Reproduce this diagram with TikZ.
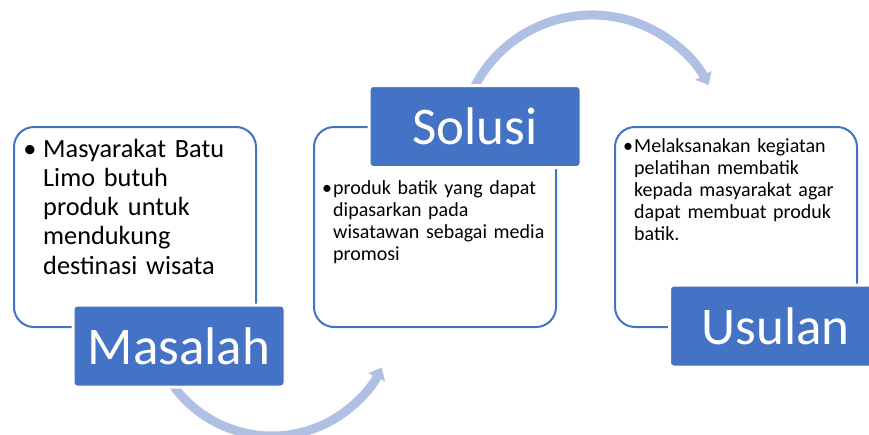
\documentclass[tikz,border=0pt]{standalone}
\usepackage{fontspec}
\setmainfont{Carlito}
\usetikzlibrary{arrows.meta}
\definecolor{mainblue}{HTML}{4472C4}
\definecolor{arcblue}{HTML}{B0BFE4}
\tikzset{
  contentbox/.style={draw=mainblue, line width=2pt, rounded corners=20pt,
    minimum width=242pt, minimum height=200pt, inner sep=0pt},
  labelbox/.style={fill=mainblue, draw=white, line width=3pt, rounded corners=4pt,
    minimum width=212pt, minimum height=82pt, inner sep=0pt,
    text=white, font=\fontsize{53}{60}\selectfont},
  bigtext/.style={anchor=base west, inner sep=0pt, align=left, text width=#1,
    font=\fontsize{26.3}{29.3}\selectfont},
  smalltext/.style={anchor=base west, inner sep=0pt, align=left, text width=#1,
    font=\fontsize{20}{22}\selectfont},
  bulletmark/.style={anchor=base, inner sep=0pt},
  flowarc/.style={draw=arcblue, line width=9pt, -{Triangle[width=18pt,length=11pt]}}
}
\begin{document}
\begin{tikzpicture}[x=1pt,y=-1pt]
\useasboundingbox (0,0) rectangle (869,434);
\clip (0,0) rectangle (869,434);
% arcs
\coordinate (c1) at (592,147);
\coordinate (c2) at (272,314);
\draw[flowarc] (c1) ++(205:132) coordinate (a1s) arc[start angle=205, end angle=332, radius=132] coordinate (a1e);
\draw[flowarc] (c2) ++(145:122) coordinate (a2s) arc[start angle=145, end angle=26, radius=122] coordinate (a2e);
% content boxes
\node[contentbox] (b1) at (135,227) {};
\node[contentbox] (b2) at (435,227) {};
\node[contentbox] (b3) at (736,227) {};
% labels
\node[labelbox] (l1) at (179,346) {Masalah};
\node[labelbox] (l2) at (475,126.5) {Solusi};
\node[labelbox] (l3) at (775.5,326) {Usulan};
% texts
\node[bulletmark, font=\fontsize{26.3}{29.3}\selectfont] (d1) at (30,157) {•};
\node[bigtext=210pt] (t1) at (43,157) {Masyarakat Batu\\Limo butuh\\produk untuk\\mendukung\\destinasi wisata};
\node[bulletmark, font=\fontsize{20}{22}\selectfont] (d2) at (327,194) {•};
\node[smalltext=220pt] (t2) at (333,194) {produk batik yang dapat\\dipasarkan pada\\wisatawan sebagai media\\promosi};
\node[bulletmark, font=\fontsize{20}{22}\selectfont] (d3) at (628,152) {•};
\node[smalltext=220pt] (t3) at (634,152) {Melaksanakan kegiatan\\pelatihan membatik\\kepada masyarakat agar\\dapat membuat produk\\batik.};
\end{tikzpicture}
\end{document}
